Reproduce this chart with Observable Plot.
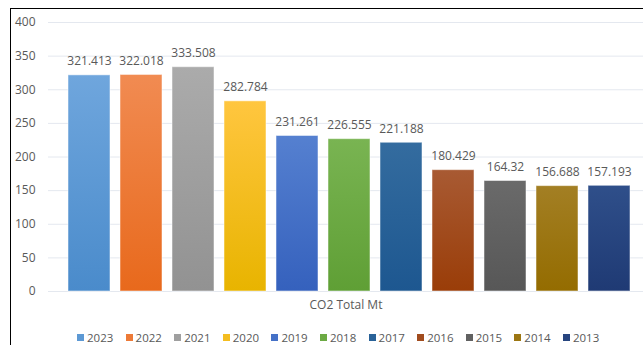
<!DOCTYPE html>
<html>
<head>
<meta charset="utf-8">
<script src="https://cdn.jsdelivr.net/npm/d3@7"></script>
<script src="https://cdn.jsdelivr.net/npm/@observablehq/plot@0.6"></script>
<style>
  html, body { margin: 0; padding: 0; background: #fff; }
  body { width: 643px; height: 345px; position: relative; overflow: hidden; font-family: "Open Sans", sans-serif; }
  #frame { position: absolute; left: 10px; top: 8px; width: 700px; height: 400px; border-left: 1.5px solid #000; border-top: 1.5px solid #000; pointer-events: none; }
  #chart { position: absolute; left: 0; top: 0; }
  #legend { position: absolute; left: 77px; top: 330px; display: flex; gap: 0; font-size: 11.5px; color: #595959; }
  #legend .item { display: flex; align-items: center; width: 48.6px; }
  #legend .sw { width: 7px; height: 7px; margin-right: 3px; }
</style>
</head>
<body>
<div id="chart"></div>
<div id="legend"></div>
<div id="frame"></div>
<script>
const years = ["2023","2022","2021","2020","2019","2018","2017","2016","2015","2014","2013"];
const values = [321.413, 322.018, 333.508, 282.784, 231.261, 226.555, 221.188, 180.429, 164.32, 156.688, 157.193];
const topColors = ["#6fa6dd","#f18b52","#ababab","#ffc63f","#5580d0","#79b452","#346c9f","#a85a33","#6a6a6a","#a37f24","#2f4f8a"];
const bottomColors = ["#4a8bcb","#e8691c","#929292","#e8b400","#3561bd","#5f9f35","#1d5790","#9a3d08","#575757","#946c00","#1f3a74"];
const yTicks = [0, 50, 100, 150, 200, 250, 300, 350, 400];
const categoryLabel = "CO2 Total Mt";

const data = years.map((y, i) => ({year: y, value: values[i]}));

const chart = Plot.plot({
  width: 643,
  height: 320,
  marginLeft: 48,
  marginRight: 0,
  marginTop: 22,
  marginBottom: 29,
  style: {fontFamily: "'Open Sans', sans-serif", fontSize: "12px", color: "#595959", background: "transparent"},
  x: {domain: years, range: [63, 635], paddingInner: 0.192, paddingOuter: 0.096, axis: null},
  y: {domain: [0, 400], ticks: yTicks, tickSize: 0, tickPadding: 13, label: null, tickFormat: d => String(d)},
  color: {domain: years, range: years.map((y, i) => `url(#grad${i})`)},
  marks: [
    Plot.ruleY(yTicks, {stroke: "#e4e8ef", strokeWidth: 1}),
    Plot.barY(data, {x: "year", y: "value", fill: "year", stroke: "#ffffff", strokeOpacity: 0.5, strokeWidth: 1}),
    Plot.text(data, {x: "year", y: "value", text: d => String(d.value), dy: -14, fill: "#595959", fontSize: 12}),
    Plot.text([categoryLabel], {frameAnchor: "bottom", dy: 17, fill: "#595959", fontSize: 12})
  ]
});

// gradient defs
const svg = d3.select(chart);
const defs = svg.insert("defs", ":first-child");
years.forEach((y, i) => {
  const g = defs.append("linearGradient").attr("id", `grad${i}`).attr("x1", 0).attr("y1", 0).attr("x2", 0).attr("y2", 1);
  g.append("stop").attr("offset", "0%").attr("stop-color", topColors[i]);
  g.append("stop").attr("offset", "100%").attr("stop-color", bottomColors[i]);
});

document.getElementById("chart").appendChild(chart);

const legend = d3.select("#legend");
years.forEach((y, i) => {
  const item = legend.append("div").attr("class", "item");
  item.append("div").attr("class", "sw").style("background", d3.interpolateRgb(topColors[i], bottomColors[i])(0.5));
  item.append("span").text(y);
});
</script>
</body>
</html>
